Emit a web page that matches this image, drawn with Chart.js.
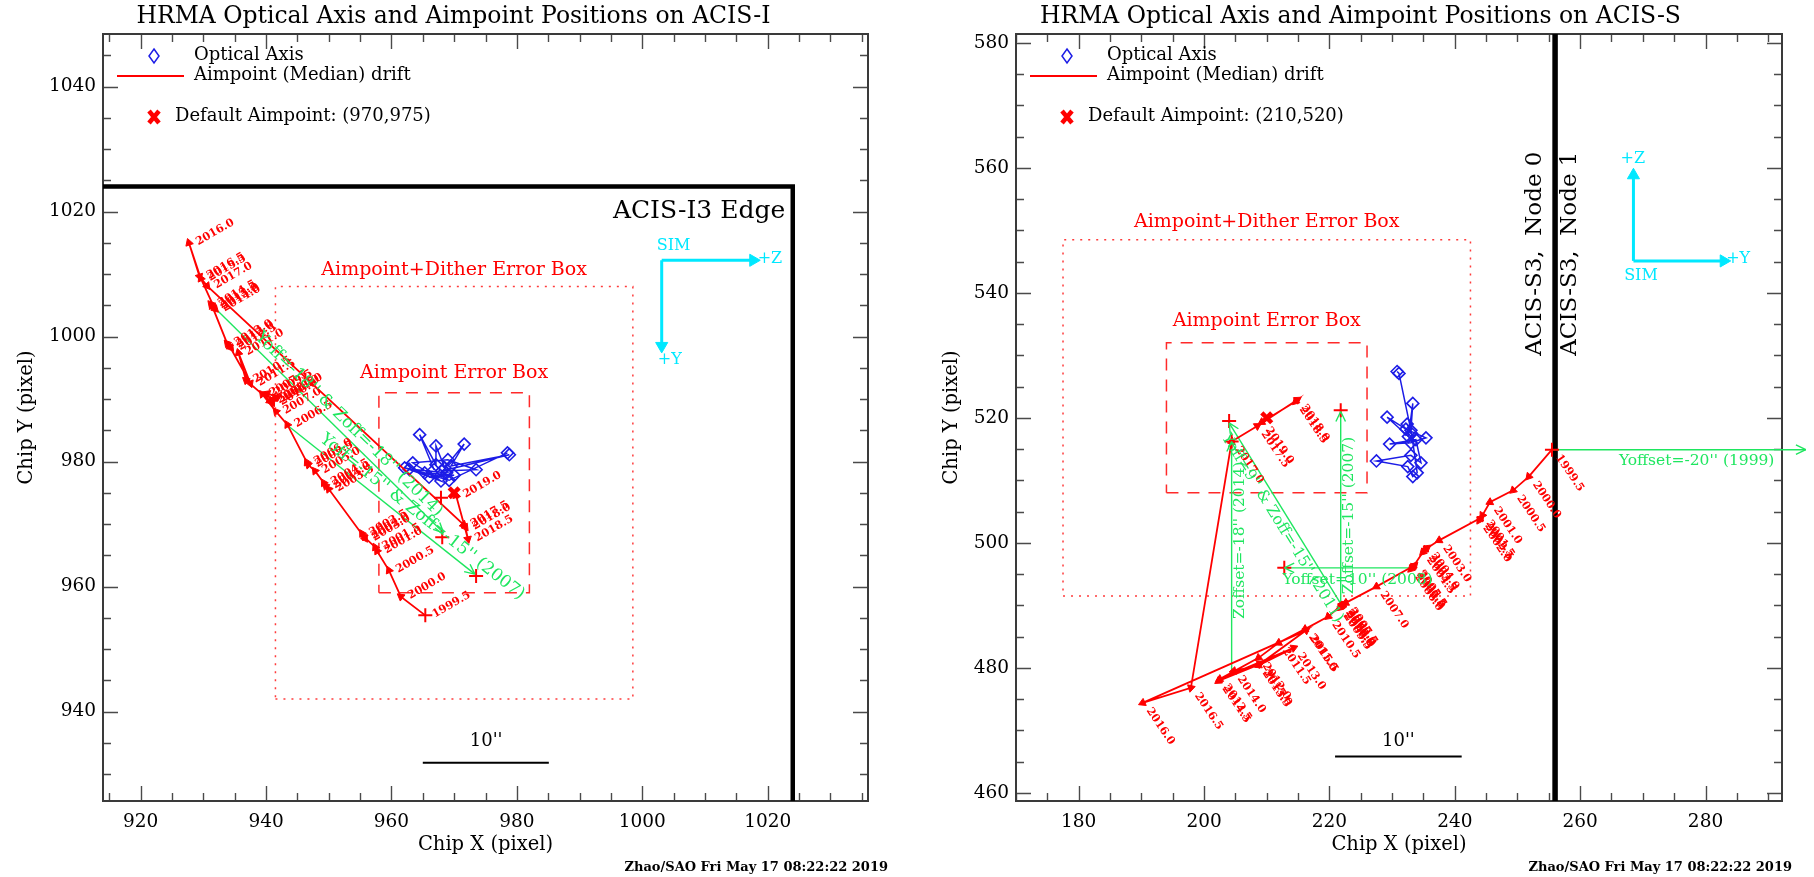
<!DOCTYPE html>
<html><head><meta charset="utf-8">
<script src="https://cdn.jsdelivr.net/npm/chart.js@4.4.1/dist/chart.umd.min.js"></script>
<style>
html,body{margin:0;padding:0;background:#fff;width:1814px;height:877px;overflow:hidden;}
canvas{position:absolute;top:0;}
#cI{left:0}#cS{left:907px}
</style></head><body>
<canvas id="cI" width="907" height="877"></canvas>
<canvas id="cS" width="907" height="877"></canvas>
<script>
// ================= DATA : ACIS-I =================
const iRangeX = [914, 1036];
const iRangeY = [925.7, 1048.4];
const iTicksX = [920, 940, 960, 980, 1000, 1020];
const iTicksY = [940, 960, 980, 1000, 1020, 1040];
const iYears = ['1999.5','2000.0','2000.5','2001.0','2001.5','2002.0','2002.5','2003.0','2003.5','2004.0',
  '2004.5','2005.0','2005.5','2006.0','2006.5','2007.0','2007.5','2008.0','2008.5','2009.0',
  '2009.5','2010.0','2010.5','2011.0','2011.5','2012.0','2012.5','2013.0','2013.5','2014.0',
  '2014.5','2015.0','2015.5','2016.0','2016.5','2017.0','2017.5','2018.0','2018.5','2019.0'];
const iAimX = [965.4,961.5,959.6,957.7,957.4,955.6,955.3,955.8,950.0,949.5,
  949.2,947.8,946.7,946.5,943.4,941.6,939.4,941.3,940.6,941.8,
  940.2,941.0,936.8,935.6,937.5,934.1,934.4,933.8,931.4,931.9,
  931.2,931.7,929.6,927.7,929.4,930.6,971.5,971.8,972.2,970.3];
const iAimY = [955.4,958.4,962.6,965.7,966.3,968.0,968.5,967.7,975.6,976.1,
  976.6,978.5,979.5,979.9,985.9,988.0,990.8,990.0,989.7,990.3,
  990.9,989.4,993.0,997.4,992.5,998.6,998.2,998.9,1004.9,1004.4,
  1005.2,1004.7,1009.3,1015.0,1009.6,1008.1,969.9,969.5,967.6,974.6];
const iOptX = [966.8,964.5,967.1,967.1,968.5,971.6,969.5,978.8,968.0,973.5,969.0,963.4,967.9,962.1,965.3,970.0,966.0,968.8,962.8,969.2,978.5];
const iOptY = [978.7,984.3,979.5,982.5,979.0,982.8,979.3,981.1,978.5,978.7,980.3,979.8,976.9,979.0,978.2,977.8,977.5,978.2,978.8,977.0,981.4];
const iDefault = [970, 975];
const iTargetX = [967.9, 968.1, 973.5];
const iTargetY = [974.2, 967.9, 961.7];
const iOffText = ["Yoff=-18'' & Zoff=-18'' (2014)", "Yoff=-15'' & Zoff=-15'' (2007)"];
const iOffX0 = [932.0, 943.3];
const iOffY0 = [1004.4, 985.9];
const iOffX1 = [968.3, 973.3];
const iOffY1 = [968.6, 962.0];
const iErrBox = [958, 982, 959, 991];
const iDitherBox = [941.5, 998.5, 942, 1008];
const iEdge = [1024, 1024];
const iBar = [965.0, 985.1, 931.8];
const iSimO = [1003.1, 1012.2];
const iSimZ = [1017.7, 1012.2];
const iSimY = [1003.1, 998.5];

// ================= DATA : ACIS-S =================
const sRangeX = [170, 292.2];
const sRangeY = [458.7, 581.4];
const sTicksX = [180, 200, 220, 240, 260, 280];
const sTicksY = [460, 480, 500, 520, 540, 560, 580];
const sYears = iYears;
const sAimX = [255.5,251.8,249.3,245.6,244.4,243.9,244.2,237.5,235.2,235.6,
  234.9,233.3,233.6,233.0,233.4,227.5,222.6,222.1,221.8,222.4,
  221.6,222.0,219.8,216.1,211.9,208.7,202.5,214.3,208.7,204.7,
  202.3,208.9,216.3,190.2,197.9,204.4,208.5,214.9,214.6,209.2];
const sAimY = [514.9,510.6,508.4,506.5,504.4,503.6,504.0,500.4,498.9,499.2,
  498.5,496.1,496.4,495.8,496.3,493.0,490.4,490.0,489.7,490.3,
  489.6,490.1,488.2,486.2,484.0,481.6,478.2,483.2,480.4,479.5,
  477.9,480.6,486.0,474.4,476.8,516.2,518.7,522.9,522.6,519.3];
const sOptX = [230.8,231.1,233.0,233.3,232.6,229.2,232.2,235.4,233.0,229.6,233.8,234.6,233.0,227.5,232.5,233.3,234.0,233.1,232.4];
const sOptY = [527.4,527.1,518.0,522.3,517.0,520.1,518.2,516.8,516.0,515.8,516.5,512.8,514.0,513.1,512.2,510.6,511.2,517.5,519.0];
const sDefault = [210, 520];
const sTargetX = [204.0, 204.4, 221.8, 212.8];
const sTargetY = [519.5, 516.2, 521.2, 496.0];
const sOffText = ["Yoffset=-20'' (1999)", "Zoffset=-15'' (2007)", "Yoffset=10'' (2008)", "Yoff=9'' & Zoff=-15'' (2011)", "Zoffset=-18'' (2014)"];
const sOffX0 = [255.5, 221.8, 233.3, 221.9, 204.4];
const sOffY0 = [514.9, 490.2, 496.0, 490.1, 479.5];
const sOffX1 = [296.0, 221.8, 212.8, 204.0, 204.4];
const sOffY1 = [514.9, 521.0, 496.0, 519.2, 516.2];
const sErrBox = [194, 226, 508, 532];
const sDitherBox = [177.5, 242.5, 491.5, 548.5];
const sNodeX = 256;
const sBar = [220.9, 241.1, 465.8];
const sSimO = [268.5, 545.1];
const sSimZ = [268.5, 558.8];
const sSimY = [282.9, 545.1];

// ================= STYLE / HELPERS =================
const SERIF = "'DejaVu Serif','Liberation Serif',serif";
const RED = '#ff0000', BLUE = '#1c1ce6', GREEN = '#1ee65f', CYAN = '#00e8ff';
const FOOT = 'Zhao/SAO Fri May 17 08:22:22 2019';

function P(xs, ys) { return xs.map((x, i) => ({x: x, y: ys[i]})); }
function boxPts(b) { return [{x:b[0],y:b[2]},{x:b[1],y:b[2]},{x:b[1],y:b[3]},{x:b[0],y:b[3]},{x:b[0],y:b[2]}]; }
function arrowRot(c) {
  const i = c.dataIndex, d = c.dataset.data;
  if (!i) return 0;
  const X = c.chart.scales.x, Y = c.chart.scales.y;
  if (!X || !Y) return 0;
  const dx = X.getPixelForValue(d[i].x) - X.getPixelForValue(d[i-1].x);
  const dy = Y.getPixelForValue(d[i].y) - Y.getPixelForValue(d[i-1].y);
  if (Math.abs(dx) + Math.abs(dy) < 1e-6) return 0;
  return Math.atan2(dx, -dy) * 180 / Math.PI;
}

function buildDatasets(D) {
  const ds = [];
  ds.push({role:'def', data:[{x:D.def[0], y:D.def[1]}], showLine:false, pointStyle:'crossRot', pointRadius:7, pointBorderWidth:4.5, pointBorderColor:RED, pointBackgroundColor:RED});
  ds.push({role:'tgt', data:P(D.tx, D.ty), showLine:false, pointStyle:'cross', pointRadius:7, pointBorderWidth:2, pointBorderColor:RED});
  ds.push({role:'path', data:P(D.ax, D.ay), showLine:true, borderColor:RED, borderWidth:1.8,
    pointStyle: D.ax.map((_, i) => i ? 'triangle' : 'cross'),
    pointRadius: D.ax.map((_, i) => i ? 4.5 : 7),
    pointBorderWidth: D.ax.map((_, i) => i ? 1 : 2),
    pointBackgroundColor: RED, pointBorderColor: RED, pointRotation: arrowRot});
  ds.push({role:'opt', data:P(D.ox, D.oy), showLine:true, borderColor:BLUE, borderWidth:1.5,
    pointStyle:'rectRot', pointRadius:6, pointBorderWidth:1.6, pointBorderColor:BLUE, pointBackgroundColor:'rgba(0,0,0,0)'});
  D.gx0.forEach((x0, k) => ds.push({role:'green', gi:k,
    data:[{x:x0, y:D.gy0[k]}, {x:D.gx1[k], y:D.gy1[k]}], showLine:true, borderColor:GREEN, borderWidth:1.4, pointRadius:0, clip:false}));
  [D.simA, D.simB].forEach(tip => ds.push({role:'sim',
    data:[{x:D.simO[0], y:D.simO[1]}, {x:tip[0], y:tip[1]}], showLine:true, borderColor:CYAN, borderWidth:3,
    pointStyle:'triangle', pointRadius:[0, 7], pointBorderWidth:1, pointBackgroundColor:CYAN, pointBorderColor:CYAN, pointRotation: arrowRot}));
  ds.push({role:'err', data:boxPts(D.err), showLine:true, borderColor:'#ff2a2a', borderWidth:1.5, borderDash:[12, 9], pointRadius:0});
  ds.push({role:'dither', data:boxPts(D.dither), showLine:true, borderColor:'#ff3b3b', borderWidth:1.5, borderDash:[2, 6], pointRadius:0});
  ds.push({role:'bar', data:[{x:D.bar[0], y:D.bar[2]}, {x:D.bar[1], y:D.bar[2]}], showLine:true, borderColor:'#000', borderWidth:2, pointRadius:0});
  D.edges.forEach(e => ds.push({role:'edge', data:e.pts, showLine:true, borderColor:'#000', borderWidth:e.w, pointRadius:0, clip:0}));
  return ds;
}

function txt(ctx, s, x, y, font, color, align, rot, base) {
  ctx.save();
  ctx.font = font; ctx.fillStyle = color; ctx.textAlign = align || 'center'; ctx.textBaseline = base || 'middle';
  ctx.translate(x, y); if (rot) ctx.rotate(rot * Math.PI / 180);
  ctx.fillText(s, 0, 0); ctx.restore();
}

function makeDeco(S) {
  return {
    id: 'deco',
    beforeDatasetsDraw(chart) {
      const {ctx, chartArea: a} = chart; const X = chart.scales.x, Y = chart.scales.y;
      ctx.save();
      ctx.strokeStyle = '#4a4a4a'; ctx.lineWidth = 1.4; ctx.beginPath();
      for (let v = Math.ceil(X.min / 5) * 5; v <= X.max + 1e-9; v += 5) {
        const p = Math.round(X.getPixelForValue(v)) + 0.5, L = (v % 20 === 0) ? 15 : 8;
        ctx.moveTo(p, a.bottom); ctx.lineTo(p, a.bottom - L);
        ctx.moveTo(p, a.top); ctx.lineTo(p, a.top + L);
      }
      for (let v = Math.ceil(Y.min / 5) * 5; v <= Y.max + 1e-9; v += 5) {
        const p = Math.round(Y.getPixelForValue(v)) + 0.5, L = (v % 20 === 0) ? 15 : 8;
        ctx.moveTo(a.left, p); ctx.lineTo(a.left + L, p);
        ctx.moveTo(a.right, p); ctx.lineTo(a.right - L, p);
      }
      ctx.stroke();
      ctx.lineWidth = 2; ctx.strokeStyle = '#3a3a3a';
      ctx.strokeRect(a.left, a.top, a.right - a.left, a.bottom - a.top);
      ctx.restore();
    },
    afterDatasetsDraw(chart) {
      const {ctx} = chart; const X = chart.scales.x, Y = chart.scales.y;
      const px = v => X.getPixelForValue(v), py = v => Y.getPixelForValue(v);
      const dsets = chart.data.datasets;
      dsets.forEach((d, di) => {
        if (d.role !== 'path') return;
        chart.getDatasetMeta(di).data.forEach((el, i) => {
          txt(ctx, S.years[i], el.x + S.lab[0], el.y + S.lab[1], 'bold 11px ' + SERIF, RED, 'left', S.lab[2]);
        });
      });
      dsets.forEach(d => {
        if (d.role !== 'green') return;
        const k = d.gi;
        const x0 = px(d.data[0].x), y0 = py(d.data[0].y), x1 = px(d.data[1].x), y1 = py(d.data[1].y);
        const th = Math.atan2(y1 - y0, x1 - x0);
        ctx.save(); ctx.strokeStyle = GREEN; ctx.lineWidth = 1.4; ctx.beginPath();
        [0.45, -0.45].forEach(b => { ctx.moveTo(x1, y1); ctx.lineTo(x1 - 11 * Math.cos(th + b), y1 - 11 * Math.sin(th + b)); });
        ctx.stroke(); ctx.restore();
        let rot = th;
        if (rot > Math.PI / 2 + 1e-6) rot -= Math.PI;
        if (rot < -Math.PI / 2 - 1e-6) rot += Math.PI;
        const t = S.gPlace[k][0], off = S.gPlace[k][1];
        const mx = x0 + (x1 - x0) * t, my = y0 + (y1 - y0) * t;
        ctx.save(); ctx.font = S.gFont + 'px ' + SERIF; ctx.fillStyle = GREEN; ctx.textAlign = 'center'; ctx.textBaseline = 'middle';
        ctx.translate(mx, my); ctx.rotate(rot); ctx.fillText(S.gText[k], 0, off); ctx.restore();
      });
      S.notes.forEach(n => txt(ctx, n.t, px(n.x), py(n.y), n.f, n.c, n.a, n.r));
    },
    afterDraw(chart) {
      const {ctx, chartArea: a} = chart;
      const cx = (a.left + a.right) / 2;
      txt(ctx, S.title, chart.width / 2, 23, '23.5px ' + SERIF, '#000', 'center', 0, 'alphabetic');
      txt(ctx, 'Chip X (pixel)', cx, 845, '19.5px ' + SERIF, '#000');
      txt(ctx, 'Chip Y (pixel)', S.yTitleX, (a.top + a.bottom) / 2, '19.5px ' + SERIF, '#000', 'center', -90);
      txt(ctx, FOOT, S.footX, 868, 'bold 13px ' + SERIF, '#000', 'right');
      const L = a.left, T = a.top;
      ctx.save();
      ctx.strokeStyle = BLUE; ctx.lineWidth = 1.5; ctx.beginPath();
      ctx.moveTo(L + 51, T + 15); ctx.lineTo(L + 56, T + 22); ctx.lineTo(L + 51, T + 29); ctx.lineTo(L + 46, T + 22); ctx.closePath(); ctx.stroke();
      ctx.strokeStyle = RED; ctx.lineWidth = 2; ctx.beginPath(); ctx.moveTo(L + 14, T + 42); ctx.lineTo(L + 81, T + 42); ctx.stroke();
      ctx.lineWidth = 4.5; ctx.beginPath();
      ctx.moveTo(L + 46, T + 77); ctx.lineTo(L + 56, T + 89); ctx.moveTo(L + 56, T + 77); ctx.lineTo(L + 46, T + 89); ctx.stroke();
      ctx.restore();
      txt(ctx, 'Optical Axis', L + 91, T + 21, '18px ' + SERIF, '#000', 'left');
      txt(ctx, 'Aimpoint (Median) drift', L + 91, T + 41, '18px ' + SERIF, '#000', 'left');
      txt(ctx, 'Default Aimpoint: (' + S.def[0] + ',' + S.def[1] + ')', L + 72, T + 82, '18px ' + SERIF, '#000', 'left');
    }
  };
}

function makeChart(id, D, S, padR, yW) {
  new Chart(document.getElementById(id), {
    type: 'scatter',
    data: {datasets: buildDatasets(D)},
    options: {
      responsive: false, animation: false, devicePixelRatio: 1, events: [],
      layout: {padding: {left: 0, right: padR, top: 34, bottom: 0}},
      plugins: {legend: {display: false}, tooltip: {enabled: false}, title: {display: false}},
      scales: {
        x: {type: 'linear', min: D.xr[0], max: D.xr[1],
          afterBuildTicks: s => { s.ticks = D.xt.map(v => ({value: v})); },
          afterFit: s => { s.height = 76; },
          grid: {display: false, drawTicks: false}, border: {display: false},
          ticks: {font: {family: SERIF, size: 18.5}, color: '#000', padding: 10, maxRotation: 0, autoSkip: false, callback: v => String(v)}},
        y: {type: 'linear', min: D.yr[0], max: D.yr[1],
          afterBuildTicks: s => { s.ticks = D.yt.map(v => ({value: v})); },
          afterFit: s => { s.width = yW; },
          grid: {display: false, drawTicks: false}, border: {display: false},
          ticks: {font: {family: SERIF, size: 18.5}, color: '#000', padding: 7, autoSkip: false, callback: v => String(v)}}
      }
    },
    plugins: [makeDeco(S)]
  });
}

// ---------- ACIS-I chart ----------
makeChart('cI', {
  xr: iRangeX, yr: iRangeY, xt: iTicksX, yt: iTicksY,
  ax: iAimX, ay: iAimY, ox: iOptX, oy: iOptY, def: iDefault, tx: iTargetX, ty: iTargetY,
  gx0: iOffX0, gy0: iOffY0, gx1: iOffX1, gy1: iOffY1,
  simO: iSimO, simA: iSimZ, simB: iSimY, err: iErrBox, dither: iDitherBox, bar: iBar,
  edges: [{pts: [{x: iEdge[0], y: 900}, {x: iEdge[0], y: iEdge[1]}, {x: 900, y: iEdge[1]}], w: 4.5}]
}, {
  title: 'HRMA Optical Axis and Aimpoint Positions on ACIS-I', years: iYears, def: iDefault,
  lab: [8, 0, -30], gText: iOffText, gPlace: [[0.55, -11], [0.68, -12]], gFont: 17,
  yTitleX: 27, footX: 888,
  notes: [
    {t: 'ACIS-I3 Edge', x: 1022.8, y: 1020.0, f: '25px ' + SERIF, c: '#000', a: 'right'},
    {t: 'Aimpoint+Dither Error Box', x: 970, y: 1010.6, f: '19px ' + SERIF, c: RED},
    {t: 'Aimpoint Error Box', x: 970, y: 994.2, f: '19px ' + SERIF, c: RED},
    {t: 'SIM', x: 1005.0, y: 1014.5, f: '16px ' + SERIF, c: CYAN},
    {t: '+Z', x: 1018.4, y: 1012.4, f: '16px ' + SERIF, c: CYAN, a: 'left'},
    {t: '+Y', x: 1004.4, y: 996.2, f: '16px ' + SERIF, c: CYAN},
    {t: "10''", x: 975.1, y: 935.2, f: '18px ' + SERIF, c: '#000'}
  ]
}, 39, 103);

// ---------- ACIS-S chart ----------
makeChart('cS', {
  xr: sRangeX, yr: sRangeY, xt: sTicksX, yt: sTicksY,
  ax: sAimX, ay: sAimY, ox: sOptX, oy: sOptY, def: sDefault, tx: sTargetX, ty: sTargetY,
  gx0: sOffX0, gy0: sOffY0, gx1: sOffX1, gy1: sOffY1,
  simO: sSimO, simA: sSimZ, simB: sSimY, err: sErrBox, dither: sDitherBox, bar: sBar,
  edges: [{pts: [{x: sNodeX, y: 400}, {x: sNodeX, y: 700}], w: 5.5}]
}, {
  title: 'HRMA Optical Axis and Aimpoint Positions on ACIS-S', years: sYears, def: sDefault,
  lab: [6, 6, 56], gText: sOffText, gPlace: [[0.57, 11], [0.46, 8], [0.43, 12], [0.45, 10], [0.57, 8]], gFont: 15.5,
  yTitleX: 45, footX: 885,
  notes: [
    {t: 'ACIS-S3,  Node 0', x: 252.8, y: 562.6, f: '23px ' + SERIF, c: '#000', a: 'right', r: -90},
    {t: 'ACIS-S3,  Node 1', x: 258.4, y: 562.6, f: '23px ' + SERIF, c: '#000', a: 'right', r: -90},
    {t: 'Aimpoint+Dither Error Box', x: 210, y: 551.3, f: '19px ' + SERIF, c: RED},
    {t: 'Aimpoint Error Box', x: 210, y: 535.4, f: '19px ' + SERIF, c: RED},
    {t: '+Z', x: 268.4, y: 561.4, f: '16px ' + SERIF, c: CYAN},
    {t: '+Y', x: 283.3, y: 545.4, f: '16px ' + SERIF, c: CYAN, a: 'left'},
    {t: 'SIM', x: 269.7, y: 542.7, f: '16px ' + SERIF, c: CYAN},
    {t: "10''", x: 231.0, y: 468.3, f: '18px ' + SERIF, c: '#000'}
  ]
}, 32, 109);
</script>
</body></html>
